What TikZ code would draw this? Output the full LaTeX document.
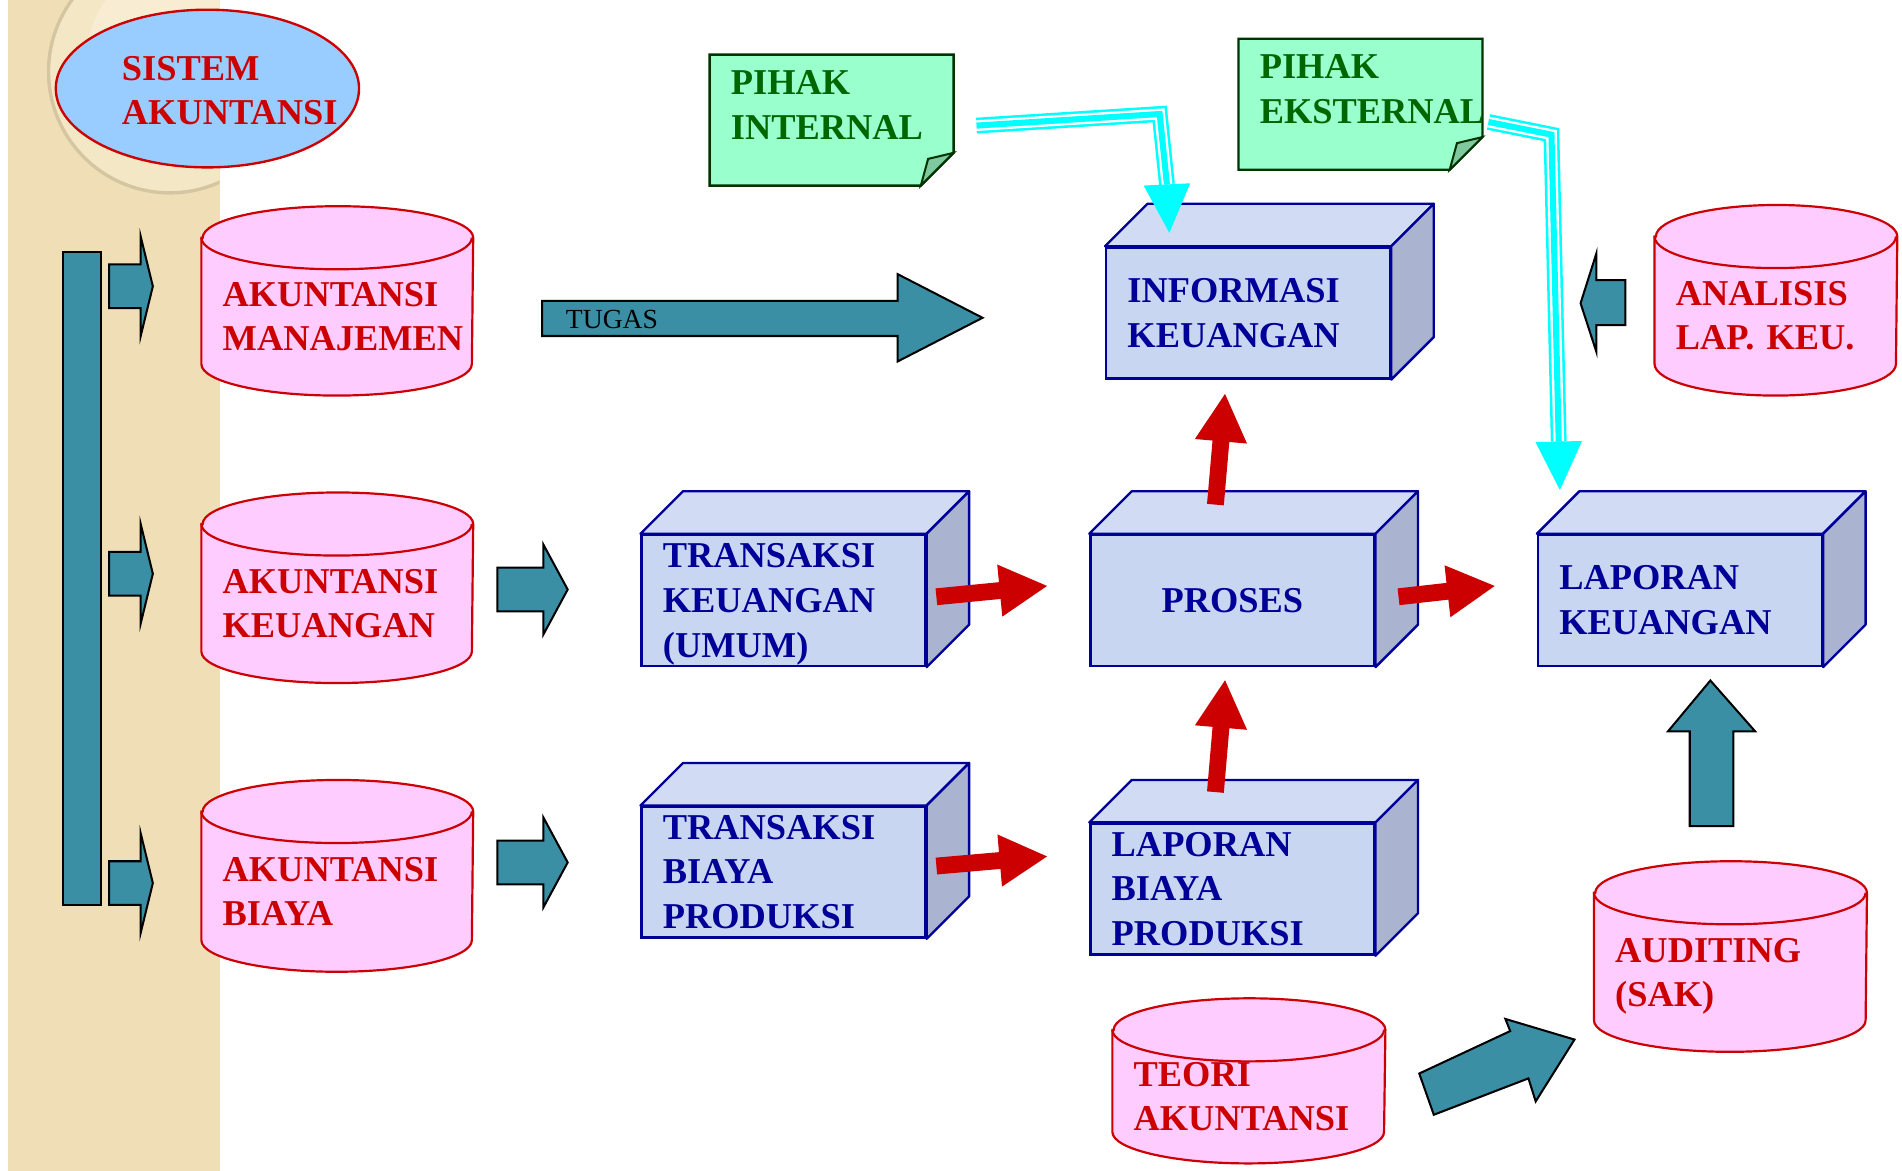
\documentclass[tikz,border=0pt]{standalone}
\usepackage{fontspec}
\setmainfont{Liberation Serif}
\usetikzlibrary{arrows.meta,backgrounds,shapes.geometric}
\definecolor{tealblock}{HTML}{3A8FA5}
\definecolor{arrowred}{HTML}{CC0000}
\definecolor{cylred}{HTML}{CC0000}
\definecolor{cylpink}{HTML}{FFCCFF}
\definecolor{navytext}{HTML}{000099}
\definecolor{boxfront}{HTML}{C8D6F2}
\definecolor{boxtop}{HTML}{D2DBF4}
\definecolor{boxside}{HTML}{AAB3D0}
\definecolor{notegreen}{HTML}{99FFCC}
\definecolor{notefold}{HTML}{80C8A0}
\definecolor{noteedge}{HTML}{003300}
\definecolor{notetext}{HTML}{006600}
\definecolor{skyfill}{HTML}{99CCFF}
\definecolor{pipecyan}{HTML}{00FFFF}
\definecolor{stripbeige}{HTML}{F0DFB6}
\definecolor{ringfill}{HTML}{F4E7C6}
\definecolor{ringedge}{HTML}{D5C6A2}
\definecolor{ringinner}{HTML}{F8EDD3}
\newcommand{\unitpx}{0.36pt}
\tikzset{
    big-font/.style = {font=\bfseries\fontsize{10.8}{13.1}\selectfont},
    box-font/.style = {font=\bfseries\fontsize{10.8}{13.3}\selectfont},
    red-text/.style = {big-font, text=cylred, align=left, inner sep=0pt},
    title-ellipse/.style = {ellipse, draw=cylred, fill=skyfill, line width=0.7pt, minimum width=90pt, minimum height=46.8pt},
    cyl-node/.style 2 args = {red-text, rectangle, anchor=north west, inner xsep=6.12pt, inner ysep=0pt, text width=#1, minimum height=#2},
    cyl-shape/.style = {draw=cylred, fill=cylpink, line width=0.65pt},
    box3d/.style = {box-font, text=navytext, draw=navytext, fill=boxfront, line width=0.7pt, anchor=north west, align=left, inner xsep=6.3pt, inner ysep=0pt, text width=71.64pt, minimum height=38.88pt},
    box-top/.style = {draw=navytext, fill=boxtop, line width=0.7pt, line join=round},
    box-side/.style = {draw=navytext, fill=boxside, line width=0.7pt, line join=round},
    note-node/.style = {big-font, text=notetext, anchor=north west, align=left, inner xsep=6.12pt, inner ysep=0pt, text width=59.76pt, minimum height=29.52pt},
    note-shape/.style = {draw=noteedge, fill=notegreen, line width=0.7pt},
    note-fold/.style = {draw=noteedge, fill=notefold, line width=0.6pt},
    teal-block/.style = {draw=black, fill=tealblock, line width=0.6pt},
    tugas-text/.style = {font=\fontsize{8.2}{9}\selectfont, text=black, inner sep=0pt},
    red-arrow/.style = {draw=arrowred, line width=5pt, -{Triangle[length=14.4pt,width=14.4pt]}},
    cyan-pipe/.style = {draw=white, line width=3.2pt, preaction={draw=pipecyan, line width=4.7pt}, postaction={draw=pipecyan, line width=1.8pt}},
    cyan-head/.style = {draw=pipecyan, line width=0.4pt, -{Triangle[length=14.4pt,width=13.7pt]}},
}
\begin{document}
\begin{tikzpicture}[x=\unitpx, y=-\unitpx]
\useasboundingbox (0,0) rectangle (1568,965);
\begin{scope}[on background layer]
  \fill[white] (0,0) rectangle (1568,965);
  \fill[stripbeige] (7,0) rectangle (181,965);
  \begin{scope}
    \clip (7,0) rectangle (181,965);
    \filldraw[fill=ringfill, draw=ringedge, line width=1pt] (140,59) circle[radius=36pt];
    \fill[ringinner] (152,48) circle[radius=29pt];
  \end{scope}
\end{scope}

\node[title-ellipse] (sistem) at (171,73) {};
\node[red-text, anchor=west] (sistem-text) at (100,74.5) {SISTEM\\AKUNTANSI};

\draw[teal-block] (52,208) rectangle (83,746);
\foreach \c in {236,473,728}
  \draw[teal-block] (90,\c-18) -- (116,\c-18) -- (116,\c-41) -- (126,\c) -- (116,\c+41) -- (116,\c+18) -- (90,\c+18) -- cycle;

\node[cyl-node={68.04pt}{46.44pt}] (akm) at (166,196) {AKUNTANSI\\MANAJEMEN};
\node[cyl-node={68.04pt}{46.8pt}] (akk) at (166,432) {AKUNTANSI\\KEUANGAN};
\node[cyl-node={68.04pt}{47.16pt}] (akb) at (166,669) {AKUNTANSI\\BIAYA};
\node[cyl-node={59.4pt}{46.8pt}] (analisis) at (1364,195) {ANALISIS\\LAP. KEU.};
\node[cyl-node={68.4pt}{46.8pt}, text depth=13.1pt] (auditing) at (1314,736) {AUDITING\\(SAK)};
\node[cyl-node={68.4pt}{39.24pt}] (teori) at (917,849) {TEORI\\AKUNTANSI};
\begin{scope}[on background layer]
\foreach \n/\r in {akm/40.14pt,akk/40.14pt,akb/40.14pt,analisis/35.82pt,auditing/40.32pt,teori/40.32pt}{
  \filldraw[cyl-shape] (\n.north west) -- ([yshift=9.36pt]\n.south west)
    arc[start angle=180, end angle=360, x radius=\r, y radius=9.36pt]
    -- (\n.north east)
    arc[start angle=0, end angle=180, x radius=\r, y radius=9.36pt] -- cycle;
  \draw[cyl-shape, fill=none] (\n.north west) arc[start angle=180, end angle=360, x radius=\r, y radius=9.36pt];
}
\end{scope}

\node[note-node] (internal) at (585,45) {PIHAK\\INTERNAL};
\node[note-node] (eksternal) at (1021,32) {PIHAK\\EKSTERNAL};
\begin{scope}[on background layer]
\foreach \n in {internal,eksternal}{
  \filldraw[note-shape] (\n.north west) -- (\n.north east) -- ([shift={(0,81)}]\n.north east)
    -- ([shift={(-27,108)}]\n.north east) -- ([shift={(0,108)}]\n.north west) -- cycle;
  \filldraw[note-fold] ([shift={(0,81)}]\n.north east) -- ([shift={(-21,86)}]\n.north east)
    -- ([shift={(-27,108)}]\n.north east) -- cycle;
}
\end{scope}

\node[box3d] (info) at (911,203) {INFORMASI\\KEUANGAN};
\node[box3d, text depth=26.6pt] (transk) at (528,440) {TRANSAKSI\\KEUANGAN\\(UMUM)};
\node[box3d, align=center] (proses) at (898,440) {PROSES};
\node[box3d] (lapkeu) at (1267,440) {LAPORAN\\KEUANGAN};
\node[box3d] (transb) at (528,664) {TRANSAKSI\\BIAYA\\PRODUKSI};
\node[box3d] (lapbiaya) at (898,678) {LAPORAN\\BIAYA\\PRODUKSI};
\foreach \n in {info,transk,proses,lapkeu,transb,lapbiaya}{
  \filldraw[box-top] (\n.north west) -- ++(35,-35) -- ([shift={(35,-35)}]\n.north east) -- (\n.north east) -- cycle;
  \filldraw[box-side] (\n.north east) -- ++(35,-35) -- ([shift={(35,-35)}]\n.south east) -- (\n.south east) -- cycle;
}

\draw[teal-block] (447,248) -- (740,248) -- (740,226) -- (810,262) -- (740,298) -- (740,277) -- (447,277) -- cycle;
\node[tugas-text, anchor=west] (tugas) at (466,263) {TUGAS};
\foreach \c in {486,711}
  \draw[teal-block] (410,\c-18) -- (448,\c-18) -- (448,\c-37) -- (468,\c) -- (448,\c+37) -- (448,\c+18) -- (410,\c+18) -- cycle;
\draw[teal-block] (1340,231) -- (1316,231) -- (1316,209) -- (1303,250) -- (1316,290) -- (1316,268) -- (1340,268) -- cycle;
\draw[teal-block] (1393,681) -- (1393,603) -- (1375,603) -- (1410,561) -- (1447,603) -- (1429,603) -- (1429,681) -- cycle;
\draw[teal-block] (1170,885) -- (1245,850) -- (1241,840) -- (1298,857) -- (1266,908) -- (1260,889) -- (1182,919) -- cycle;

\draw[red-arrow] ([shift={(8,-3)}]transk.east) -- ([shift={(-34,-12)}]proses.west);
\draw[red-arrow] ([shift={(19,-3)}]proses.east) -- ([shift={(-34,-12)}]lapkeu.west);
\draw[red-arrow] ([shift={(8,-5)}]transb.east) -- ([shift={(-34,-27)}]lapbiaya.west);
\draw[red-arrow] ([shift={(-14,-25)}]lapbiaya.north) -- ([shift={(-6,10)}]proses.south);
\draw[red-arrow] ([shift={(-14,-24)}]proses.north) -- ([shift={(-19,11)}]info.south);

\coordinate (int-bend) at (956,94);
\coordinate (int-head) at (962,152);
\coordinate (eks-bend) at (1279,111);
\coordinate (eks-head) at (1285,364);
\draw[cyan-pipe] ([shift={(19,17)}]internal.east) -- (int-bend) -- (int-head);
\draw[cyan-head] (int-head) -- ([shift={(-65,-11)}]info.north);
\draw[cyan-pipe] ([shift={(5,27)}]eksternal.east) -- (eks-bend) -- (eks-head);
\draw[cyan-head] (eks-head) -- ([shift={(-99,-36)}]lapkeu.north);
\end{tikzpicture}
\end{document}
